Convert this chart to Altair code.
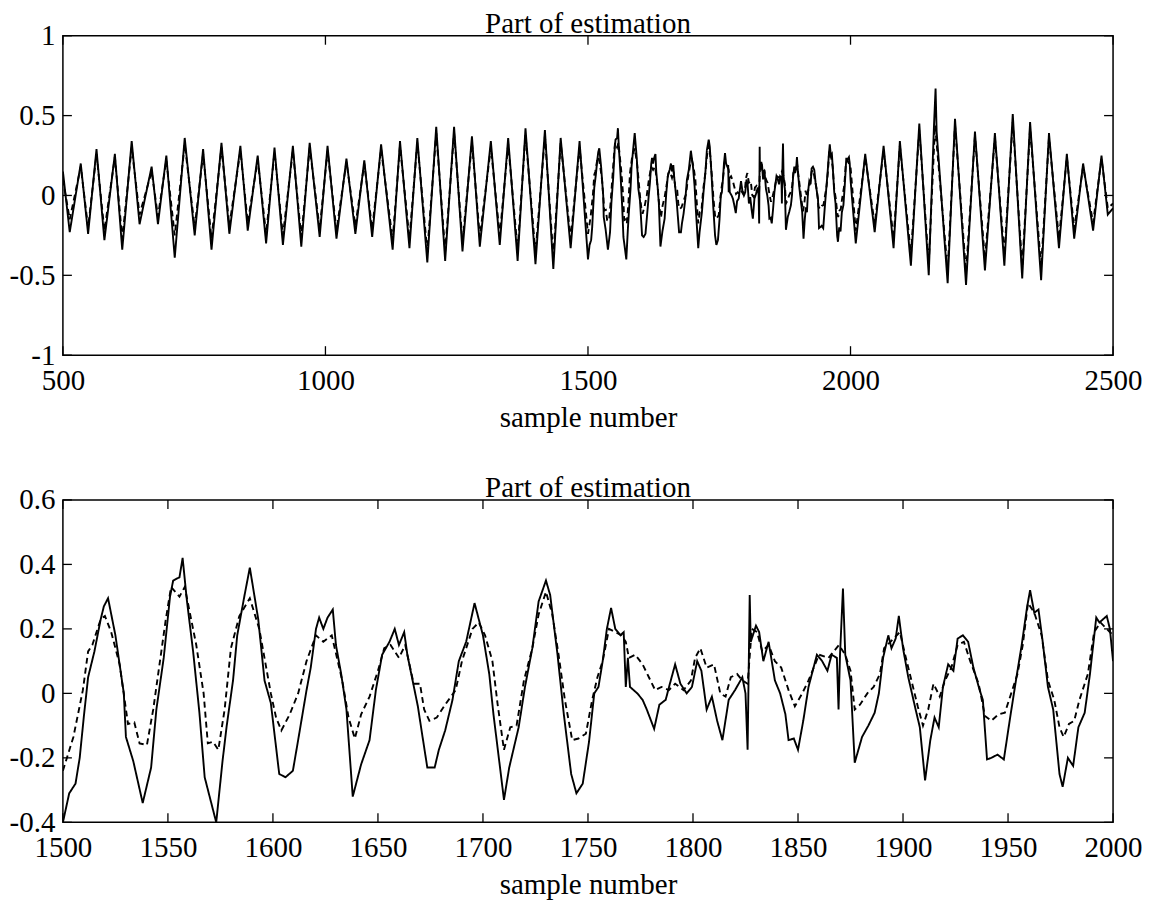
import altair as alt
import pandas as pd

FONT = "Liberation Serif"
FS = 29

# ---------------- data ----------------
# top panel, 500 .. 1500 (peaks / troughs)
early_x = [500, 513, 534, 548, 564, 579, 599, 613, 631, 646, 669, 681, 697, 713, 732, 751,
           767, 783, 802, 817, 838, 852, 871, 887, 903, 919, 938, 954, 970, 989, 1004, 1021,
           1040, 1057, 1074, 1089, 1106, 1128, 1142, 1160, 1175, 1194, 1211, 1228, 1245, 1261,
           1279, 1294, 1315, 1332, 1348, 1366, 1381, 1400, 1418, 1434, 1448, 1467, 1484]
early_solid = [0.15, -0.23, 0.20, -0.24, 0.29, -0.28, 0.26, -0.34, 0.34, -0.18, 0.18, -0.18,
               0.25, -0.39, 0.36, -0.25, 0.29, -0.34, 0.33, -0.24, 0.31, -0.22, 0.25, -0.30,
               0.30, -0.31, 0.31, -0.32, 0.33, -0.26, 0.31, -0.27, 0.23, -0.24, 0.22, -0.26,
               0.32, -0.34, 0.34, -0.33, 0.36, -0.42, 0.43, -0.41, 0.43, -0.35, 0.37, -0.32,
               0.34, -0.31, 0.36, -0.41, 0.42, -0.43, 0.41, -0.46, 0.36, -0.33, 0.34]
early_dashed = [0.10, -0.15, 0.18, -0.20, 0.26, -0.22, 0.24, -0.27, 0.30, -0.12, 0.15, -0.13,
                0.22, -0.25, 0.32, -0.20, 0.26, -0.27, 0.30, -0.19, 0.28, -0.17, 0.22, -0.24,
                0.27, -0.25, 0.28, -0.26, 0.30, -0.21, 0.28, -0.22, 0.21, -0.19, 0.20, -0.21,
                0.29, -0.28, 0.31, -0.27, 0.33, -0.35, 0.39, -0.35, 0.39, -0.29, 0.33, -0.26,
                0.30, -0.25, 0.32, -0.34, 0.38, -0.36, 0.37, -0.38, 0.33, -0.27, 0.30]

# 1500 .. 2000 (shown in both panels)
mid_solid_x = [1500, 1503, 1506, 1508, 1510, 1512, 1515, 1518, 1519.5, 1521.5, 1525, 1527, 1529,
               1530, 1533.5, 1538, 1542, 1544.5, 1548, 1551, 1552.5, 1555.5, 1557, 1559, 1562,
               1565, 1567.5, 1573, 1576, 1578, 1581, 1583, 1586.5, 1589, 1593, 1596, 1599, 1603,
               1606, 1609.5, 1612, 1616, 1618, 1620.5, 1622, 1624, 1626, 1628.5, 1630, 1632.5,
               1635, 1638, 1642, 1646, 1649, 1652, 1655.5, 1658, 1660, 1662.5, 1664, 1666.5,
               1669, 1671, 1673.5, 1677, 1679, 1682, 1685.5, 1688.5, 1692, 1696, 1700, 1703,
               1705, 1708.5, 1710, 1712.5, 1717, 1720, 1723.5, 1726.5, 1730, 1732, 1735.5,
               1738.5, 1742, 1744.5, 1747.5, 1750.5, 1753, 1755, 1757, 1759, 1761, 1763, 1765.5,
               1767, 1768, 1769, 1770, 1773.5, 1776, 1778, 1781.5, 1784, 1787, 1789, 1791.5,
               1794, 1797, 1799.5, 1802, 1804, 1806.5, 1809, 1811.5, 1814, 1817, 1820, 1823.5,
               1825, 1826, 1827, 1827.5, 1830, 1831.5, 1833.5, 1836, 1839, 1841.5, 1844, 1845.5,
               1848, 1850, 1852.5, 1855, 1859, 1861.5, 1864, 1866, 1868.5, 1869.3, 1870, 1871.4,
               1872.5, 1875, 1877, 1880.5, 1883.5, 1886.5, 1888.5, 1890.5, 1893, 1894.5, 1896.5,
               1898, 1900, 1902.5, 1906, 1908, 1910.5, 1913, 1915, 1917, 1919, 1921.5, 1924,
               1926, 1928.5, 1931, 1933.5, 1936.5, 1938, 1940, 1942, 1945, 1948, 1951, 1954,
               1956.5, 1959, 1960.5, 1962.5, 1964.5, 1966.5, 1969, 1971.5, 1974.5, 1976, 1978.5,
               1981, 1983.5, 1986.5, 1989, 1992, 1993.5, 1997, 1998.5, 2000]
mid_solid_y = [-0.40, -0.31, -0.28, -0.20, -0.07, 0.05, 0.13, 0.23, 0.27, 0.295, 0.18, 0.09, 0.0,
               -0.135, -0.21, -0.34, -0.23, -0.05, 0.11, 0.30, 0.35, 0.36, 0.42, 0.29, 0.13,
               -0.06, -0.26, -0.40, -0.21, -0.10, 0.04, 0.18, 0.305, 0.39, 0.23, 0.04, -0.03, -0.25,
               -0.26, -0.24, -0.145, 0.01, 0.08, 0.20, 0.235, 0.20, 0.235, 0.26, 0.15, 0.06,
               -0.05, -0.32, -0.22, -0.145, 0.01, 0.12, 0.16, 0.20, 0.15, 0.19, 0.12, 0.04,
               -0.04, -0.125, -0.23, -0.23, -0.175, -0.115, -0.02, 0.10, 0.16, 0.28, 0.18, 0.06,
               -0.065, -0.25, -0.33, -0.23, -0.105, 0.02, 0.14, 0.285, 0.35, 0.305, 0.12,
               -0.065, -0.25, -0.31, -0.28, -0.15, 0.0, 0.02, 0.10, 0.20, 0.265, 0.20, 0.18,
               0.19, 0.02, 0.11, 0.02, 0.0, -0.02, -0.05, -0.11, -0.035, -0.02, 0.03, 0.09,
               0.03, 0.0, 0.02, 0.10, 0.07, -0.05, -0.01, -0.085, -0.145, -0.02, 0.01, 0.05,
               0.0, -0.175, 0.305, 0.16, 0.21, 0.19, 0.10, 0.16, 0.04, 0.0, -0.065, -0.145,
               -0.14, -0.175, -0.085, 0.02, 0.12, 0.10, 0.07, 0.12, 0.11, -0.05, 0.12, 0.325,
               0.12, 0.04, -0.215, -0.135, -0.10, -0.06, 0.0, 0.11, 0.18, 0.14, 0.17,
               0.24, 0.14, 0.05, -0.05, -0.105, -0.27, -0.145, -0.075, -0.105, 0.02, 0.09, 0.07,
               0.17, 0.18, 0.16, 0.08, 0.01, -0.02, -0.205, -0.20, -0.19, -0.205, -0.075, 0.05,
               0.15, 0.265, 0.32, 0.25, 0.26, 0.16, 0.02, -0.05, -0.25, -0.29, -0.20,
               -0.225, -0.105, -0.06, 0.06, 0.235, 0.22, 0.24, 0.20, 0.10]
mid_dashed_x = [1500, 1505, 1509.5, 1512, 1514, 1518, 1520, 1523, 1527, 1531, 1534, 1536.5, 1540,
                1543, 1546, 1549, 1551.5, 1555.5, 1558, 1563.5, 1567, 1569, 1571.5, 1574, 1577,
                1580, 1584, 1589, 1593.5, 1599, 1601.5, 1604, 1608, 1612, 1616, 1620.5, 1624,
                1628, 1633, 1636, 1639, 1642, 1646, 1650, 1653, 1656, 1660, 1663, 1667, 1670,
                1672, 1674.5, 1678, 1682, 1687, 1690, 1695, 1698, 1701, 1704.5, 1707, 1710,
                1713, 1716, 1719.5, 1723.5, 1726.5, 1730, 1733, 1736, 1739, 1742.5, 1745.5,
                1749, 1752, 1754.5, 1757, 1760, 1763, 1766, 1768, 1769.5, 1772.5, 1776, 1779,
                1782, 1785, 1788.5, 1791.5, 1795.5, 1799, 1801, 1803.5, 1806.5, 1810, 1813,
                1815.5, 1818, 1821, 1823.5, 1826, 1828, 1830.5, 1833, 1836, 1839, 1842, 1845.5,
                1848.5, 1852, 1855, 1860, 1864.5, 1869.5, 1872.5, 1875, 1877, 1879.5, 1883,
                1886, 1889, 1891, 1894, 1898.5, 1901, 1904, 1907, 1909.5, 1912, 1914.5, 1917.5,
                1920, 1923, 1926, 1929, 1932, 1936, 1939, 1942, 1945.5, 1948.5, 1951.5, 1954.5,
                1957, 1959.5, 1962.5, 1966, 1969, 1972, 1974.5, 1976.5, 1979, 1981.5, 1984, 1988,
                1991, 1994, 1997, 2000]
mid_dashed_y = [-0.24, -0.135, 0.01, 0.13, 0.15, 0.23, 0.24, 0.19, 0.09, -0.095, -0.09, -0.155,
                -0.16, -0.05, 0.09, 0.23, 0.33, 0.30, 0.33, 0.15, 0.0, -0.155, -0.15, -0.175,
                -0.05, 0.14, 0.24, 0.295, 0.20, 0.0, -0.075, -0.115, -0.065, 0.0, 0.10, 0.18,
                0.16, 0.18, 0.04, -0.075, -0.14, -0.065, -0.01, 0.07, 0.14, 0.15, 0.11, 0.15,
                0.03, 0.03, -0.05, -0.085, -0.075, -0.035, 0.01, 0.10, 0.20, 0.22, 0.18, 0.10,
                -0.035, -0.175, -0.105, -0.10, 0.04, 0.14, 0.245, 0.315, 0.245, 0.12, -0.02,
                -0.145, -0.14, -0.125, -0.02, 0.05, 0.10, 0.20, 0.19, 0.18, 0.16, 0.11, 0.12,
                0.09, 0.05, 0.01, 0.02, 0.01, 0.03, 0.01, 0.04, 0.11, 0.14, 0.08, 0.09, 0.0,
                -0.01, 0.05, 0.06, 0.04, 0.03, 0.20, 0.19, 0.13, 0.15, 0.10, 0.08, 0.01,
                -0.04, 0.0, 0.04, 0.12, 0.11, 0.15, 0.12, 0.07, -0.05, -0.035, 0.0,
                0.02, 0.06, 0.14, 0.16, 0.19, 0.12, 0.04, -0.04, -0.10, -0.05, 0.03, -0.01,
                0.04, 0.08, 0.15, 0.16, 0.10, 0.03, -0.07, -0.085, -0.065, -0.06, 0.0, 0.06,
                0.15, 0.28, 0.25, 0.18, 0.04, -0.02, -0.105, -0.135, -0.095, -0.085, -0.02, 0.06,
                0.19, 0.22, 0.20, 0.18]

# top panel, 2000 .. 2500
late_solid_x = [2010, 2028, 2046, 2063, 2082, 2094, 2115, 2131, 2149, 2159, 2162, 2164, 2185,
                2199, 2220, 2237, 2256, 2275, 2293, 2309, 2327, 2342, 2363, 2378, 2397, 2412,
                2426, 2443, 2462, 2478, 2490, 2500]
late_solid_y = [-0.30, 0.26, -0.23, 0.31, -0.33, 0.34, -0.44, 0.45, -0.50, 0.44, 0.67, 0.40,
                -0.55, 0.48, -0.56, 0.40, -0.47, 0.39, -0.44, 0.51, -0.52, 0.46, -0.53, 0.39,
                -0.33, 0.26, -0.27, 0.20, -0.22, 0.25, -0.12, -0.08]
late_dashed_x = [2010, 2028, 2046, 2063, 2082, 2094, 2115, 2131, 2149, 2161, 2185, 2199, 2220,
                 2237, 2256, 2275, 2293, 2309, 2327, 2342, 2363, 2378, 2397, 2412, 2426, 2443,
                 2462, 2478, 2490, 2500]
late_dashed_y = [-0.22, 0.24, -0.18, 0.28, -0.27, 0.31, -0.37, 0.41, -0.43, 0.44, -0.47, 0.44,
                 -0.48, 0.37, -0.40, 0.36, -0.37, 0.46, -0.45, 0.42, -0.45, 0.36, -0.27, 0.24,
                 -0.21, 0.18, -0.17, 0.23, -0.08, -0.05]

top_xticks = [500, 1000, 1500, 2000, 2500]
top_yticks = [-1, -0.5, 0, 0.5, 1]
bot_xticks = [1500, 1550, 1600, 1650, 1700, 1750, 1800, 1850, 1900, 1950, 2000]
bot_yticks = [-0.4, -0.2, 0, 0.2, 0.4, 0.6]
title_text = "Part of estimation"
xlabel = "sample number"


def frame(xs, ys, series):
    return pd.DataFrame({"x": xs, "y": ys, "series": series, "i": range(len(xs))})


top_df = pd.concat([
    frame(early_x + mid_solid_x + late_solid_x, early_solid + mid_solid_y + late_solid_y, "solid"),
    frame(early_x + mid_dashed_x + late_dashed_x, early_dashed + mid_dashed_y + late_dashed_y, "dashed"),
])
bot_df = pd.concat([
    frame(mid_solid_x, mid_solid_y, "solid"),
    frame(mid_dashed_x, mid_dashed_y, "dashed"),
])

LABEL_EXPR = "datum.value < 0 ? '-' + format(-datum.value, '~g') : format(datum.value, '~g')"
TL = 9  # inward tick length


def panel(df, xdom, ydom, xticks, yticks, w, h):
    xs = alt.Scale(domain=xdom, nice=False, zero=False)
    ys = alt.Scale(domain=ydom, nice=False, zero=False)
    xaxis = alt.Axis(values=xticks, title=xlabel, labelExpr=LABEL_EXPR, labelFlush=False,
                     labelOverlap=False, labelPadding=11, titlePadding=8,
                     domain=False, ticks=False, grid=False,
                     labelFont=FONT, labelFontSize=FS, labelColor="black",
                     titleFont=FONT, titleFontSize=FS, titleFontWeight="normal",
                     titleColor="black")
    yaxis = alt.Axis(values=yticks, title=None, labelExpr=LABEL_EXPR, labelFlush=False,
                     labelOverlap=False, labelPadding=8,
                     domain=False, ticks=False, grid=False,
                     labelFont=FONT, labelFontSize=FS, labelColor="black")
    lines = alt.Chart(df).mark_line(color="black", strokeWidth=1.9, clip=True).encode(
        x=alt.X("x:Q", scale=xs, axis=xaxis),
        y=alt.Y("y:Q", scale=ys, axis=yaxis),
        strokeDash=alt.StrokeDash("series:N", scale=alt.Scale(
            domain=["solid", "dashed"], range=[[1, 0], [6, 4]]), legend=None),
        detail="series:N",
        order="i:Q",
    )
    xt = pd.DataFrame({"x": xticks})
    yt = pd.DataFrame({"y": yticks})
    rule = dict(color="black", strokeWidth=1.3)
    bt = alt.Chart(xt).mark_rule(**rule).encode(
        x=alt.X("x:Q", scale=xs, axis=xaxis), y=alt.value(h), y2=alt.value(h - TL))
    tt = alt.Chart(xt).mark_rule(**rule).encode(
        x=alt.X("x:Q", scale=xs, axis=xaxis), y=alt.value(0), y2=alt.value(TL))
    lt = alt.Chart(yt).mark_rule(**rule).encode(
        y=alt.Y("y:Q", scale=ys, axis=yaxis), x=alt.value(0), x2=alt.value(TL))
    rt = alt.Chart(yt).mark_rule(**rule).encode(
        y=alt.Y("y:Q", scale=ys, axis=yaxis), x=alt.value(w), x2=alt.value(w - TL))
    return alt.layer(lines, bt, tt, lt, rt).properties(
        width=w, height=h,
        title=alt.Title(title_text, font=FONT, fontSize=FS, fontWeight="normal",
                        color="black", offset=-17, frame="group"),
    )


top = panel(top_df, [500, 2500], [-1, 1], top_xticks, top_yticks, 1052, 320)
bottom = panel(bot_df, [1500, 2000], [-0.4, 0.6], bot_xticks, bot_yticks, 1052, 323)

chart = alt.vconcat(top, bottom, spacing=40).properties(
    padding={"left": 0, "top": 0, "right": 0, "bottom": 0},
    background="white",
).configure_view(stroke="black", strokeWidth=1.5)

chart.save("out.html", embed_options={"renderer": "svg", "actions": False})
